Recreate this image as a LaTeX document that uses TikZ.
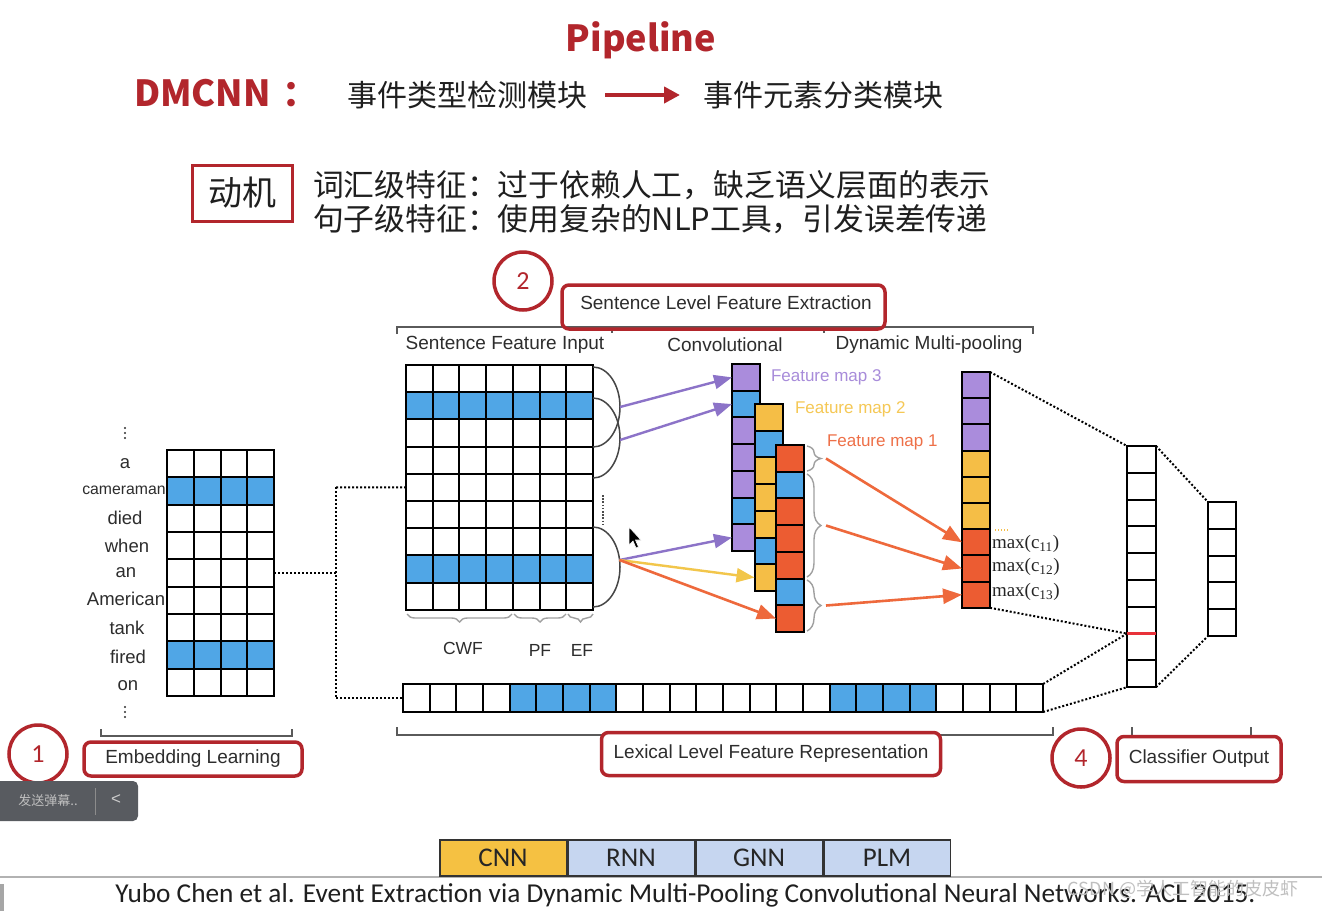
\documentclass[tikz,border=0pt]{standalone}
\usepackage{fontspec}
\setmainfont{Liberation Sans}
\newfontfamily\cjk{Noto Sans CJK SC}
\newfontfamily\calib{Carlito}
\newfontfamily\tms{Liberation Serif}
\usetikzlibrary{arrows.meta,decorations.pathreplacing,calc}
\definecolor{dred}{RGB}{178,38,44}
\definecolor{cblue}{RGB}{80,166,230}
\definecolor{cpur}{RGB}{170,140,220}
\definecolor{cyel}{RGB}{245,190,70}
\definecolor{cred}{RGB}{236,92,50}
\definecolor{apur}{RGB}{140,115,200}
\definecolor{ayel}{RGB}{242,198,75}
\definecolor{aora}{RGB}{238,105,60}
\definecolor{tpur}{RGB}{168,140,218}
\definecolor{tyel}{RGB}{245,200,85}
\definecolor{tora}{RGB}{238,112,72}
\definecolor{bcnn}{RGB}{245,193,66}
\definecolor{bgnn}{RGB}{198,214,240}
\definecolor{labc}{RGB}{45,45,45}
\definecolor{brkc}{RGB}{90,90,90}
\definecolor{brgray}{RGB}{160,160,160}
\definecolor{arcc}{RGB}{70,70,70}
\definecolor{redl}{RGB}{232,50,58}
\definecolor{uibg}{RGB}{88,91,96}
\begin{document}
\begin{tikzpicture}[x=1pt,y=-1pt,
  cell/.style={draw=black, line width=2pt, inner sep=0pt, outer sep=0pt},
  txt/.style={inner sep=0pt, outer sep=0pt},
  lab/.style={txt, text=labc, font=\fontsize{19}{19}\selectfont},
  word/.style={txt, text=labc, font=\fontsize{18.5}{18.5}\selectfont},
  rbox/.style={draw=dred, line width=3.5pt, rounded corners=7pt, inner sep=0pt},
  rcirc/.style={circle, draw=dred, line width=3.5pt, minimum size=58pt, text=dred, font=\calib\fontsize{26}{26}\selectfont, inner sep=0pt},
  brk/.style={draw=brkc, line width=1.3pt},
  dotl/.style={draw=black, line width=2pt, dash pattern=on 2pt off 2pt},
  arcl/.style={draw=arcc, line width=1.5pt},
  gbr/.style={draw=brgray, line width=1.4pt, decorate, decoration={brace, amplitude=14pt}},
  gbrs/.style={draw=brgray, line width=1.4pt, decorate, decoration={brace, amplitude=8pt}},
  parr/.style={draw=apur, line width=2.4pt, -{Triangle[length=18pt,width=14pt]}},
  yarr/.style={draw=ayel, line width=2.4pt, -{Triangle[length=18pt,width=14pt]}},
  oarr/.style={draw=aora, line width=2.6pt, -{Triangle[length=19pt,width=15pt]}},
  nbox/.style={draw=black!80, line width=1.5pt, minimum width=126.5pt, minimum height=36pt, inner sep=0pt, font=\calib\fontsize{27}{27}\selectfont, text=black!85}
]
\useasboundingbox (0,0) rectangle (1322,911);
\fill[white] (0,0) rectangle (1322,911);

% ---------- top texts ----------
\node[txt, text=dred, font=\cjk\bfseries\fontsize{36}{36}\selectfont] (title) at (641,40) {Pipeline};
\node[txt, anchor=west, text=dred, font=\cjk\bfseries\fontsize{36}{36}\selectfont] (dm) at (134,93) {DMCNN\hspace{12pt}：};
\node[txt, text=black!88, font=\cjk\fontsize{30}{30}\selectfont] (mod1) at (467,95) {事件类型检测模块};
\node[txt, text=black!88, font=\cjk\fontsize{30}{30}\selectfont] (mod2) at (823,95) {事件元素分类模块};
\draw[draw=dred, line width=4.5pt, -{Triangle[length=16pt,width=16pt]}, shorten <=18pt, shorten >=23pt] (mod1.east) -- (mod2.west);

\node[draw=dred, line width=3pt, minimum width=100pt, minimum height=56pt, inner sep=0pt, text=black!88, font=\cjk\fontsize{34}{34}\selectfont] (mot) at (242,193) {动机};
\node[txt, anchor=west, text=black!88, font=\cjk\fontsize{30.8}{30.8}\selectfont] (l1) at (313,185) {词汇级特征：过于依赖人工，缺乏语义层面的表示};
\node[txt, anchor=west, text=black!88, font=\cjk\fontsize{30.8}{30.8}\selectfont] (l2) at (313,219) {句子级特征：使用复杂的NLP工具，引发误差传递};

% ---------- section 2 header ----------
\draw[brk] (397,334) -- (397,327) -- (1033,327) -- (1033,334);
\draw[brk] (612,327) -- (612,333);
\draw[brk] (824,327) -- (824,333);
\node[rbox, minimum width=323pt, minimum height=44pt] (slbox) at (723.5,307) {};
\node[lab] (sltext) at (726,303) {Sentence Level Feature Extraction};
\node[rcirc] (c2) at (523,281) {2};
\node[lab] (sfi) at (505,345) {Sentence Feature Input};
\node[lab] (conv) at (725,345) {Convolutional};
\node[lab] (dmp) at (929,345) {Dynamic Multi-pooling};

% ---------- embedding grid ----------
\foreach \r/\f in {0/white,1/cblue,2/white,3/white,4/white,5/white,6/white,7/cblue,8/white}
  \foreach \c in {0,...,3}
    \node[cell, fill=\f, minimum width=26.75pt, minimum height=27.33pt] (e-\r-\c) at ({167+26.75*(\c+0.5)},{450+27.33*(\r+0.5)}) {};
\node[word] (w0) at (125,464) {a};
\node[txt, text=labc, font=\fontsize{15.8}{15.8}\selectfont] (w1) at (124,490) {cameraman};
\node[word] (w2) at (125,518) {died};
\node[word] (w3) at (127,546) {when};
\node[word] (w4) at (126,573) {an};
\node[word] (w5) at (126,599) {American};
\node[word] (w6) at (127,628) {tank};
\node[word] (w7) at (128,657) {fired};
\node[word] (w8) at (128,686) {on};
\foreach \k in {-5,0,5} {
  \fill[labc] (125,{433+\k}) circle (1.1pt);
  \fill[labc] (125,{712+\k}) circle (1.1pt);
}
\draw[brk] (101,729) -- (101,736) -- (292,736) -- (292,729);
\node[rbox, minimum width=218pt, minimum height=34pt, lab] (embbox) at (193,759) {Embedding Learning};
\node[rcirc] (c1) at (38,754) {1};

% ---------- sentence feature input grid ----------
\foreach \r/\f in {0/white,1/cblue,2/white,3/white,4/white,5/white,6/white,7/cblue,8/white}
  \foreach \c in {0,...,6}
    \node[cell, fill=\f, minimum width=26.71pt, minimum height=27.2pt] (s-\r-\c) at ({406+26.71*(\c+0.5)},{365+27.2*(\r+0.5)}) {};
\draw[gbrs] (512,614) -- (407,614);
\draw[gbrs] (566,614) -- (514,614);
\draw[gbrs] (593,614) -- (568,614);
\node[txt, text=labc, font=\fontsize{17.5}{17.5}\selectfont] (cwf) at (463,648) {CWF};
\node[txt, text=labc, font=\fontsize{17.5}{17.5}\selectfont] (pf) at (540,650) {PF};
\node[txt, text=labc, font=\fontsize{17.5}{17.5}\selectfont] (ef) at (582,650) {EF};

% arcs (convolution windows)
\foreach \cy in {407,438,567}
  \draw[arcl] (593,{\cy-40}) .. controls (608,{\cy-40}) and (620,{\cy-22}) .. (620,\cy)
              .. controls (620,{\cy+22}) and (608,{\cy+40}) .. (593,{\cy+40});
\coordinate (tA) at (620,407);
\coordinate (tB) at (620,440);
\coordinate (tC) at (619.5,560);
\draw[draw=black!70, line width=1.6pt, dash pattern=on 1.6pt off 1.6pt] (603,495) -- (603,525);

% ---------- feature maps ----------
\foreach \i/\f in {0/cpur,1/cblue,2/cpur,3/cpur,4/cpur,5/cblue,6/cpur}
  \node[cell, fill=\f, minimum width=28pt, minimum height=26.7pt] (m3-\i) at (746,{364+26.7*(\i+0.5)}) {};
\foreach \i/\f in {0/cyel,1/cblue,2/cyel,3/cyel,4/cyel,5/cblue,6/cyel}
  \node[cell, fill=\f, minimum width=28pt, minimum height=26.7pt] (m2-\i) at (768.5,{404+26.7*(\i+0.5)}) {};
\foreach \i/\f in {0/cred,1/cblue,2/cred,3/cred,4/cred,5/cblue,6/cred}
  \node[cell, fill=\f, minimum width=28pt, minimum height=26.7pt] (m1-\i) at (790,{445+26.7*(\i+0.5)}) {};
\node[txt, anchor=west, text=tpur, font=\fontsize{17}{17}\selectfont] (fm3) at (771,377) {Feature map 3};
\node[txt, anchor=west, text=tyel, font=\fontsize{17}{17}\selectfont] (fm2) at (795,409) {Feature map 2};
\node[txt, anchor=west, text=tora, font=\fontsize{17}{17}\selectfont] (fm1) at (827,442) {Feature map 1};

\draw[parr] (tA) -- (m3-0.west);
\draw[parr] (tB) -- (m3-1.west);
\draw[parr] (tC) -- (m3-6.west);
\draw[yarr] (tC) -- (m2-6.west);
\draw[oarr] (tC) -- (m1-6.west);

% braces of feature map 1
\draw[gbr] (807,446) -- (807,471);
\draw[gbr] (807,474) -- (807,577);
\draw[gbr] (807,580) -- (807,631);
\coordinate (bt1) at (826,458.5);
\coordinate (bt2) at (826,525.5);
\coordinate (bt3) at (826,605.5);

% ---------- pooling column ----------
\foreach \i/\f in {0/cpur,1/cpur,2/cpur,3/cyel,4/cyel,5/cyel,6/cred,7/cred,8/cred}
  \node[cell, fill=\f, minimum width=28pt, minimum height=26.2pt] (p-\i) at (976,{372+26.2*(\i+0.5)}) {};
\draw[oarr] (bt1) -- (p-6.west);
\draw[oarr] (bt2) -- (p-7.west);
\draw[oarr] (bt3) -- (p-8.west);
\draw[draw=cyel, line width=1.2pt, dash pattern=on 1.2pt off 1.8pt] (995,530) -- (1008,530);
\node[txt, anchor=west, text=black!85, font=\tms\fontsize{19}{19}\selectfont] (mx1) at (992,544) {max(c\textsubscript{11})};
\node[txt, anchor=west, text=black!85, font=\tms\fontsize{19}{19}\selectfont] (mx2) at (992,567) {max(c\textsubscript{12})};
\node[txt, anchor=west, text=black!85, font=\tms\fontsize{19}{19}\selectfont] (mx3) at (992,592) {max(c\textsubscript{13})};

% ---------- lexical bar ----------
\foreach \i/\f in {0/white,1/white,2/white,3/white,4/cblue,5/cblue,6/cblue,7/cblue,8/white,9/white,10/white,11/white,12/white,13/white,14/white,15/white,16/cblue,17/cblue,18/cblue,19/cblue,20/white,21/white,22/white,23/white}
  \node[cell, fill=\f, minimum width=26.67pt, minimum height=28pt] (lx-\i) at ({403+26.67*(\i+0.5)},698) {};
\draw[brk] (397,727) -- (397,735) -- (1053,735) -- (1053,727);
\node[rbox, fill=white, minimum width=339pt, minimum height=43pt, lab] (lexbox) at (771,754) {Lexical Level Feature Representation};

% ---------- classifier ----------
\foreach \i in {0,...,8}
  \node[cell, fill=white, minimum width=29pt, minimum height=26.8pt] (k-\i) at (1141.5,{446+26.8*(\i+0.5)}) {};
\draw[draw=redl, line width=2.5pt] (k-7.north west) -- (k-7.north east);
\foreach \i in {0,...,4}
  \node[cell, fill=white, minimum width=28pt, minimum height=26.8pt] (o-\i) at (1222,{502+26.8*(\i+0.5)}) {};
\draw[brk] (1132,727) -- (1132,737) -- (1251,737) -- (1251,727);
\node[rbox, fill=white, minimum width=164pt, minimum height=45pt, lab] (clsbox) at (1199,759) {Classifier Output};
\node[rcirc] (c4) at (1081,758) {4};

% ---------- dotted connectors ----------
\coordinate (jtop) at (336,487.4);
\coordinate (jbot) at (336,698);
\draw[dotl] (e-4-3.east) -- (e-4-3.east -| jtop);
\draw[dotl] (jtop) -- (jbot);
\draw[dotl] (jtop) -- (s-4-0.west);
\draw[dotl] (jbot) -- (lx-0.west);
\draw[dotl] (p-0.north east) -- (k-0.north west);
\draw[dotl] (p-8.south east) -- (k-7.north west);
\draw[dotl] (lx-23.north east) -- (k-7.north west);
\draw[dotl] (lx-23.south east) -- (k-8.south west);
\draw[dotl] (k-0.north east) -- (o-0.north west);
\draw[dotl] (k-8.south east) -- (o-4.south west);

% mouse pointer
\filldraw[fill=black, draw=white, line width=0.6pt] (629,527) -- (629,545) -- (633,541) -- (636,548) -- (638.5,547) -- (635.5,540) -- (641,540) -- cycle;

% ---------- bottom ----------
\draw[draw=black!30, line width=1.5pt] (0,877) -- (1322,877);
\node[nbox, fill=bcnn] (cnn) at (503,858) {CNN};
\node[nbox, fill=bgnn, anchor=west] (rnn) at (cnn.east) {RNN};
\node[nbox, fill=bgnn, anchor=west] (gnn) at (rnn.east) {GNN};
\node[nbox, fill=bgnn, anchor=west] (plm) at (gnn.east) {PLM};
\node[txt, text=black!88, font=\calib\fontsize{27.3}{27.3}\selectfont] (cite) at (685.5,895) {Yubo Chen et al. Event Extraction via Dynamic Multi-Pooling Convolutional Neural Networks. ACL 2015.};
\node[txt, text=black!25, font=\cjk\fontsize{18}{18}\selectfont] (wm) at (1183,889) {CSDN @学人工智能的皮皮虾};
\fill[black!35] (0,884) rectangle (4,911);

% ---------- player overlay ----------
\node[fill=uibg, rounded corners=5pt, minimum width=150pt, minimum height=40pt, inner sep=0pt] (ui) at (63,801) {};
\node[txt, text=black!25, font=\cjk\fontsize{13}{13}\selectfont] (uitxt) at (48,801) {发送弹幕..};
\draw[draw=black!45, line width=1pt] (95,788) -- (95,815);
\node[txt, text=black!20, font=\fontsize{17}{17}\selectfont] (uiarr) at (116,800) {<};
\end{tikzpicture}
\end{document}
